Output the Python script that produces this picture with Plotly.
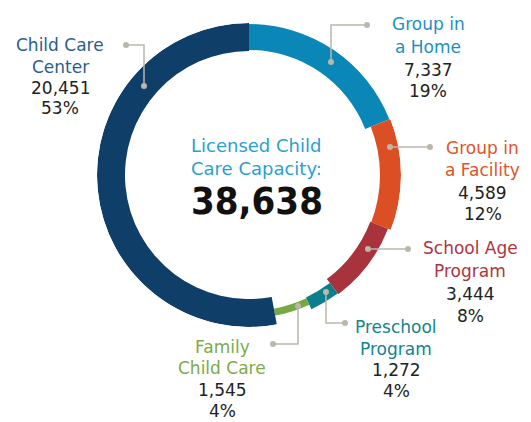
import plotly.graph_objects as go

categories = ["Group in a Home", "Group in a Facility", "School Age Program",
              "Preschool Program", "Family Child Care", "Child Care Center"]
values = [7337, 4589, 3444, 1272, 1545, 20451]
percents = ["19%", "12%", "8%", "4%", "4%", "53%"]
total = 38638

# styles
colors = ["#0a86b7", "#dc4e24", "#a8333d", "#0b7f8b", "#78a845", "#0f3e68"]
label_colors = ["#1d8fc4", "#e0532a", "#b0343d", "#14838e", "#7aab4a", "#2b5d8c"]
ring_inner = [125, 131, 130, 135, 136, 124]
ring_outer = [151, 152, 149, 148, 143, 152]
OUTER = 152

W, H = 531, 422
cx, cy = 249, 175

s = sum(values)
widths = [v / s * 360 for v in values]
mids = []
acc = 0
for w in widths:
    mids.append(acc + w / 2)
    acc += w

fig = go.Figure()
fig.add_trace(go.Barpolar(
    theta=mids, width=widths,
    r=[o - i for o, i in zip(ring_outer, ring_inner)],
    base=ring_inner,
    marker=dict(color=colors, line=dict(width=0)),
    hoverinfo="skip", showlegend=False,
))

def px(x):
    return x / W

def py(y):
    return 1 - y / H

LINE = "#bbb7ab"
shapes = []
leaders = [
    [(331, 62), (331, 25), (367, 25)],
    [(390, 147), (430, 147)],
    [(368, 249), (408, 249)],
    [(326, 292), (326, 323), (345, 323)],
    [(298, 306), (298, 344), (273, 344)],
    [(144, 86), (144, 45), (126, 45)],
]
for pts in leaders:
    path = "M " + " L ".join(f"{px(x)},{py(y)}" for x, y in pts)
    shapes.append(dict(type="path", xref="paper", yref="paper", path=path,
                       line=dict(color=LINE, width=1.5)))
    for (x, y) in (pts[0], pts[-1]):
        shapes.append(dict(type="circle", xref="paper", yref="paper",
                           x0=px(x - 3), x1=px(x + 3), y0=py(y + 3), y1=py(y - 3),
                           fillcolor=LINE, line=dict(width=0)))

label_lines = [
    ("Group in", "a Home"),
    ("Group in", "a Facility"),
    ("School Age", "Program"),
    ("Preschool", "Program"),
    ("Family", "Child Care"),
    ("Child Care", "Center"),
]
# x centre and the y centres of the four lines
label_x = [428, 483, 470, 396, 222, 60]
label_y = [
    (24, 47, 70, 91),
    (148, 170, 193, 214),
    (248, 271, 294, 316),
    (327, 349, 370, 391),
    (347, 368, 390, 411),
    (45, 67, 88, 108),
]

FONT = "DejaVu Sans"
FS = 17
annotations = []
for i in range(len(categories)):
    l1, l2 = label_lines[i]
    texts = [l1, l2, f"{values[i]:,}", percents[i]]
    cols = [label_colors[i], label_colors[i], "#222222", "#222222"]
    for t, c, y in zip(texts, cols, label_y[i]):
        annotations.append(dict(
            x=px(label_x[i]), y=py(y), xref="paper", yref="paper",
            xanchor="center", yanchor="middle", text=t, showarrow=False,
            font=dict(family=FONT, size=FS, color=c),
        ))

TX = 256
for t, y in (("Licensed Child", 145), ("Care Capacity:", 168)):
    annotations.append(dict(
        x=px(TX), y=py(y), xref="paper", yref="paper", xanchor="center", yanchor="middle",
        text=t, showarrow=False,
        font=dict(family=FONT, size=18, color="#2a9fd3"),
    ))
annotations.append(dict(
    x=px(TX + 1), y=py(201), xref="paper", yref="paper", xanchor="center", yanchor="middle",
    text=f"<b>{total:,}</b>", showarrow=False,
    font=dict(family="DejaVu Sans Condensed", size=38, color="#111111"),
))

fig.update_layout(
    width=W, height=H,
    margin=dict(l=0, r=0, t=0, b=0),
    paper_bgcolor="white", plot_bgcolor="white",
    polar=dict(
        domain=dict(x=[px(cx - OUTER), px(cx + OUTER)], y=[py(cy + OUTER), py(cy - OUTER)]),
        bgcolor="rgba(0,0,0,0)",
        radialaxis=dict(visible=False, range=[0, OUTER]),
        angularaxis=dict(visible=False, rotation=90, direction="clockwise"),
    ),
    shapes=shapes,
    annotations=annotations,
)

fig.write_html("out.html", config={"displayModeBar": False},
               post_script="document.body.style.margin='0';")
